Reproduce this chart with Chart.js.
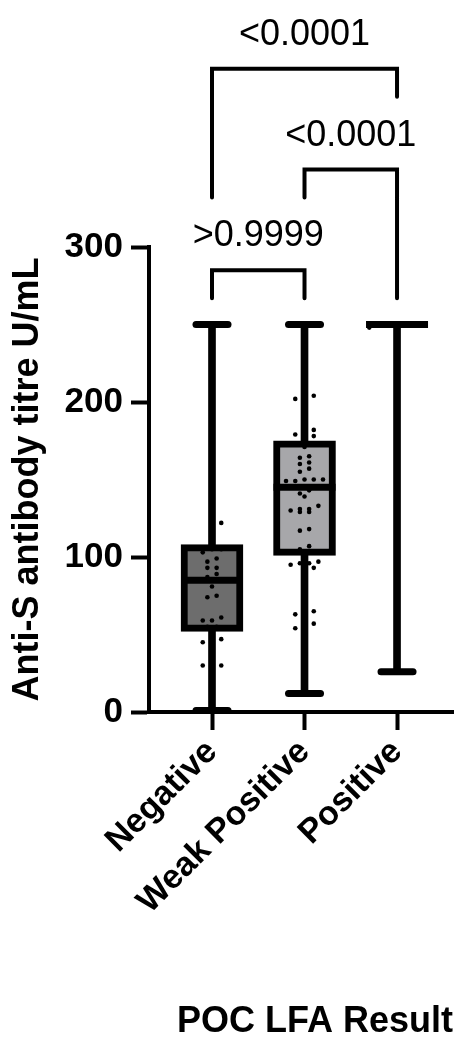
<!DOCTYPE html>
<html>
<head>
<meta charset="utf-8">
<script src="https://cdn.jsdelivr.net/npm/chart.js@4.4.1/dist/chart.umd.min.js"></script>
<style>
  html, body { margin: 0; padding: 0; background: #fff; }
</style>
</head>
<body>
<canvas id="chart" width="455" height="1048"></canvas>
<script>
// groups and box summaries (U/mL)
const groups = ['Negative', 'Weak Positive', 'Positive'];
const minVals = [1, 12, 26];
const q1Vals = [52, 101, 250];
const medianVals = [85, 145, 250];
const q3Vals = [108, 175, 250];
const maxVals = [250, 250, 250];
const yTicks = [0, 100, 200, 300];

// individual results
const negativeDots = [250, 122, 105, 105, 103, 99, 97, 93, 93, 89, 87, 81, 75, 74,
    61, 59, 59, 55, 55, 47, 45, 30, 30, 1];
const weakDots = [250, 204, 202, 182, 180, 179, 178, 171, 165, 164, 161, 160, 157, 155,
    150, 150, 149, 150, 149, 143, 141, 139, 133, 131, 131, 130, 129, 129, 118, 117,
    107, 105, 103, 103, 97, 96, 96, 95, 93, 65, 63, 57, 54, 12];
const positiveDots = [250, 250, 250, 250, 250, 250, 248, 26];
const allDots = [negativeDots, weakDots, positiveDots];

// comparison brackets: from group, to group, bar level, foot ends, p values
const bracketFrom = [0, 1, 0];
const bracketTo = [1, 2, 2];
const bracketLevel = [285, 350, 415];
const bracketLeftEnd = [267, 332, 332];
const bracketRightEnd = [267, 267, 397];
const pValues = ['>0.9999', '<0.0001', '<0.0001'];

const FONT = "'Liberation Sans', Arial, Helvetica, sans-serif";
Chart.defaults.font.family = FONT;
Chart.defaults.color = '#000';

// rows of near-equal values spread sideways around the group centre;
// rows outside the box are pushed off the whisker so they stay visible
function swarm(values, lo, hi, step, tol) {
    const sorted = values.slice().sort((a, b) => b - a);
    const out = [];
    let row = [];
    const flush = () => {
        row.sort((a, b) => a - b);
        const n = row.length;
        const outside = row[0] > hi || row[n - 1] < lo;
        row.forEach((v, k) => {
            let off = (k - (n - 1) / 2) * step;
            if (outside && n === 1) off = step;
            if (outside && n === 2) off = k ? step : -step;
            out.push({v: v, off: off});
        });
        row = [];
    };
    sorted.forEach(v => {
        if (row.length && Math.max(...row) - v > tol) flush();
        row.push(v);
    });
    flush();
    return out;
}

const dotPoints = [];
allDots.forEach((vals, i) => {
    swarm(vals, q1Vals[i], q3Vals[i], 0.1, 3.5)
        .forEach(p => dotPoints.push({x: i + p.off, y: p.v}));
});

const bracketSets = bracketFrom.map((f, i) => ({
    type: 'line',
    data: [
        {x: f, y: bracketLeftEnd[i]},
        {x: f, y: bracketLevel[i]},
        {x: bracketTo[i], y: bracketLevel[i]},
        {x: bracketTo[i], y: bracketRightEnd[i]}
    ],
    borderColor: '#000',
    borderWidth: 4,
    borderCapStyle: 'round',
    borderJoinStyle: 'miter',
    pointRadius: 0,
    tension: 0,
    fill: false,
    clip: false,
    order: 0
}));

const pLabels = {
    id: 'pLabels',
    afterDatasetsDraw(chart) {
        const {ctx, scales: {x, y}} = chart;
        ctx.save();
        ctx.font = '36px ' + FONT;
        ctx.fillStyle = '#000';
        ctx.textAlign = 'center';
        ctx.textBaseline = 'alphabetic';
        pValues.forEach((t, i) => {
            const px = x.getPixelForValue((bracketFrom[i] + bracketTo[i]) / 2);
            const py = y.getPixelForValue(bracketLevel[i]) - 24;
            ctx.fillText(t, px, py);
        });
        ctx.restore();
    }
};

// rounded ends for the whisker caps
const roundCaps = {
    id: 'roundCaps',
    beforeDatasetDraw(chart, args) {
        if (chart.data.datasets[args.index].roundCap) {
            chart.ctx.save();
            chart.ctx.lineCap = 'round';
        }
    },
    afterDatasetDraw(chart, args) {
        if (chart.data.datasets[args.index].roundCap) chart.ctx.restore();
    }
};

new Chart(document.getElementById('chart'), {
    type: 'bar',
    data: {
        datasets: [
            {
                // whiskers
                type: 'bar',
                data: groups.map((g, i) => ({x: i, y: [minVals[i], maxVals[i]]})),
                backgroundColor: '#000',
                barThickness: 7,
                grouped: false,
                order: 4
            },
            {
                // boxes
                type: 'bar',
                data: groups.map((g, i) => ({x: i, y: [q1Vals[i], q3Vals[i]]})),
                backgroundColor: ['#6d6d6d', '#a7a7aa', '#a7a7aa'],
                borderColor: '#000',
                borderWidth: 7,
                borderSkipped: false,
                barThickness: 62,
                grouped: false,
                order: 3
            },
            {
                // whisker caps
                type: 'scatter',
                data: groups.flatMap((g, i) => [{x: i, y: minVals[i]}, {x: i, y: maxVals[i]}]),
                pointStyle: 'line',
                pointRadius: 16,
                pointHoverRadius: 16,
                pointBorderWidth: 7,
                pointBorderColor: '#000',
                roundCap: true,
                order: 2
            },
            {
                // medians
                type: 'scatter',
                data: groups.map((g, i) => ({x: i, y: medianVals[i]})),
                pointStyle: 'line',
                pointRadius: 31,
                pointHoverRadius: 31,
                pointBorderWidth: 7,
                pointBorderColor: '#000',
                order: 1
            },
            {
                // individual results
                type: 'scatter',
                data: dotPoints,
                pointRadius: 2.3,
                pointHoverRadius: 2.3,
                pointBorderWidth: 0,
                pointBackgroundColor: '#000',
                order: 0
            },
            ...bracketSets
        ]
    },
    options: {
        responsive: false,
        animation: false,
        events: [],
        layout: {autoPadding: false, padding: {top: 247, right: 2, left: 0, bottom: 0}},
        plugins: {legend: {display: false}, tooltip: {enabled: false}},
        scales: {
            x: {
                type: 'linear',
                min: -0.681,
                max: 2.605,
                offset: false,
                afterFit: s => {
                    s.height = 336;
                    s.paddingLeft = 0;
                    s.paddingRight = 0;
                },
                afterBuildTicks: s => { s.ticks = groups.map((g, i) => ({value: i})); },
                ticks: {
                    autoSkip: false,
                    minRotation: 45,
                    maxRotation: 45,
                    padding: 2,
                    font: {size: 34, weight: 'bold'},
                    callback: v => groups[v]
                },
                grid: {display: true, offset: false, drawOnChartArea: false, tickLength: 18, tickWidth: 4, tickColor: '#000'},
                border: {display: true, color: '#000', width: 4},
                title: {
                    display: true,
                    text: 'POC LFA Result',
                    align: 'end',
                    font: {size: 36, weight: 'bold'},
                    padding: {top: 0, bottom: 4}
                }
            },
            y: {
                min: 0,
                max: 300,
                afterFit: s => { s.width = 149; },
                afterBuildTicks: s => { s.ticks = yTicks.map(v => ({value: v})); },
                ticks: {
                    padding: 8,
                    font: {size: 35, weight: 'bold'}
                },
                grid: {display: true, drawOnChartArea: false, tickLength: 18, tickWidth: 4, tickColor: '#000'},
                border: {display: true, color: '#000', width: 4},
                title: {
                    display: true,
                    text: 'Anti-S antibody titre U/mL',
                    font: {size: 36, weight: 'bold'},
                    padding: {top: 6, bottom: 0}
                }
            }
        }
    },
    plugins: [pLabels, roundCaps]
});
</script>
</body>
</html>
